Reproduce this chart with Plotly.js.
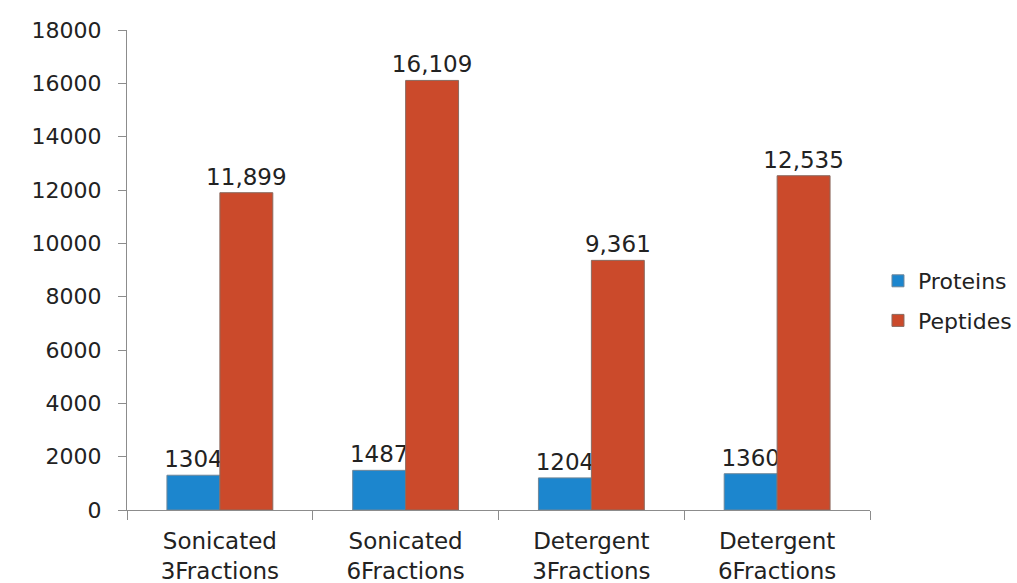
<!DOCTYPE html>
<html>
<head>
<meta charset="utf-8">
<script src="https://cdn.plot.ly/plotly-3.0.1.min.js"></script>
<style>
  html, body { margin: 0; padding: 0; background: #ffffff; }
  #chart { width: 1017px; height: 583px; }
</style>
</head>
<body>
<div id="chart"></div>
<script>
// Sample preparation methods and identification counts
const categories = [
  "Sonicated<br>3Fractions",
  "Sonicated<br>6Fractions",
  "Detergent<br>3Fractions",
  "Detergent<br>6Fractions"
];
const proteins = [1304, 1487, 1204, 1360];
const peptides = [11899, 16109, 9361, 12535];
const yTicks = [0, 2000, 4000, 6000, 8000, 10000, 12000, 14000, 16000, 18000];

const font = "DejaVu Sans, Verdana, sans-serif";
const textColor = "#222222";

const traces = [
  {
    type: "bar",
    name: "Proteins",
    legendgroup: "p1",
    x: categories,
    y: proteins,
    marker: { color: "#1c86ce", line: { color: "#6f8799", width: 1 } },
    texttemplate: "%{y}",
    textposition: "outside",
    constraintext: "none",
    cliponaxis: false,
    textfont: { family: font, size: 23, color: textColor },
    hoverinfo: "x+y+name"
  },
  {
    type: "bar",
    name: "Peptides",
    legendgroup: "p2",
    x: categories,
    y: peptides,
    marker: { color: "#cb4a2b", line: { color: "#8a6a60", width: 1 } },
    texttemplate: "%{y:,}",
    textposition: "outside",
    constraintext: "none",
    cliponaxis: false,
    textfont: { family: font, size: 23, color: textColor },
    hoverinfo: "x+y+name"
  }
];

const layout = {
  width: 1017,
  height: 583,
  margin: { l: 127, r: 147, t: 30, b: 73, pad: 0 },
  paper_bgcolor: "#ffffff",
  plot_bgcolor: "#ffffff",
  barmode: "group",
  bargap: 0.43,
  bargroupgap: 0,
  font: { family: font, size: 23, color: textColor },
  showlegend: true,
  legend: {
    xref: "container",
    yref: "container",
    x: 0.8633, xanchor: "left",
    y: 0.4837, yanchor: "middle",
    traceorder: "grouped",
    tracegroupgap: 8,
    font: { family: font, size: 22, color: textColor },
    itemwidth: 30,
    bgcolor: "rgba(0,0,0,0)"
  },
  xaxis: {
    type: "category",
    showline: true,
    linecolor: "#8c8c8c",
    linewidth: 1,
    ticks: "outside",
    tickson: "boundaries",
    ticklen: 9,
    tickcolor: "#8c8c8c",
    ticklabelstandoff: 10,
    tickfont: { family: font, size: 23, color: textColor },
    showgrid: false,
    zeroline: false,
    automargin: false,
    fixedrange: true
  },
  yaxis: {
    range: [0, 18000],
    tickvals: yTicks,
    ticktext: yTicks.map(String),
    showline: true,
    linecolor: "#8c8c8c",
    linewidth: 1,
    ticks: "outside",
    ticklen: 8,
    tickcolor: "#8c8c8c",
    ticklabelstandoff: 12,
    tickfont: { family: font, size: 22, color: textColor },
    showgrid: false,
    zeroline: false,
    automargin: false,
    fixedrange: true
  }
};

Plotly.newPlot("chart", traces, layout, { displayModeBar: false, staticPlot: true });
</script>
</body>
</html>
